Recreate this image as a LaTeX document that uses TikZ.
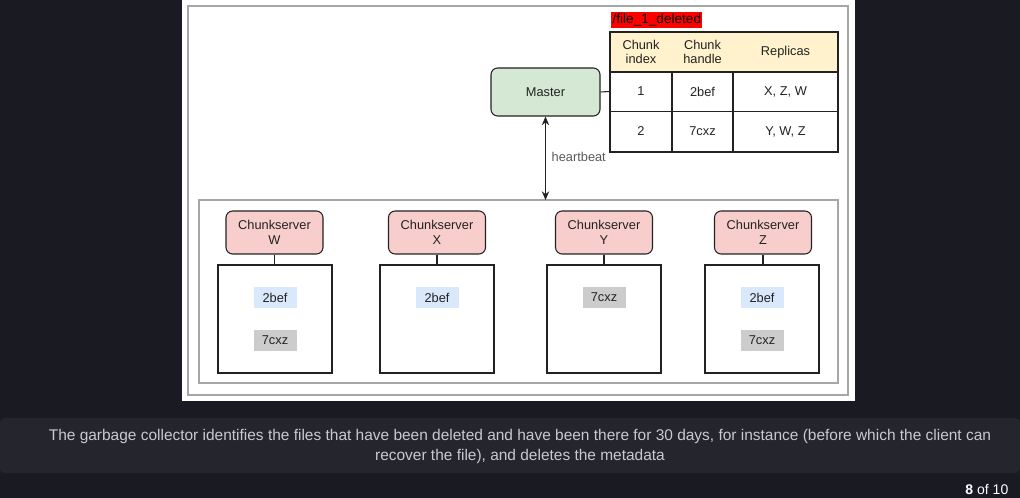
\documentclass[tikz,border=0pt]{standalone}
\usepackage{fontspec}
\setmainfont{Liberation Sans}
\usetikzlibrary{arrows.meta}
\definecolor{bgdark}{HTML}{1A1B22}
\definecolor{capbox}{HTML}{24252D}
\definecolor{captext}{HTML}{C9CAD0}
\definecolor{masterfill}{HTML}{D5E8D4}
\definecolor{csfill}{HTML}{F8CECC}
\definecolor{headfill}{HTML}{FFF2CC}
\definecolor{bluechip}{HTML}{DAE8FC}
\definecolor{graychip}{HTML}{CCCCCC}
\definecolor{framegray}{HTML}{A6A6A6}
\definecolor{ink}{HTML}{222222}
\tikzset{
  dtext/.style={font=\fontsize{9.6}{11}\selectfont, text=ink, align=center},
  master/.style={draw=ink, line width=0.8pt, rounded corners=5pt, fill=masterfill, minimum width=81.75pt, minimum height=36pt, dtext},
  cserver/.style={draw=ink, line width=0.8pt, rounded corners=5pt, fill=csfill, minimum width=72.75pt, minimum height=32.25pt, dtext, inner sep=1pt},
  store/.style={draw=ink, line width=0.8pt, fill=white, minimum width=85.5pt, minimum height=81pt},
  chip/.style={minimum width=32.25pt, minimum height=15.75pt, inner sep=0pt, dtext},
  cell/.style={dtext, inner sep=0pt},
  conn/.style={draw=ink, line width=0.8pt},
}
\begin{document}
\begin{tikzpicture}[x=0.75pt, y=-0.75pt]
\useasboundingbox (0,0) rectangle (1020,498);
\fill[bgdark] (0,0) rectangle (1020,498);
% caption box
\fill[capbox, rounded corners=3pt] (0,418) rectangle (1020,473);
\node[text=captext, font=\fontsize{11.6}{15.7}\selectfont, align=center] (caption) at (520,446.5)
  {The garbage collector identifies the files that have been deleted and have been there for 30 days, for instance (before which the client can\\recover the file), and deletes the metadata};
\node[text=white, font=\fontsize{10.5}{12}\selectfont, anchor=east] (pager) at (1013,490) {\textbf{8} of 10};
% white panel
\fill[white] (182,0) rectangle (855,401);
\draw[framegray, line width=0.8pt] (188,6) rectangle (848,395);
% group container
\draw[framegray, line width=0.8pt] (199,200) rectangle (838,383);
% master
\node[master] (master) at (545.5,92) {Master};
% table title
\node[fill=red, text=black, font=\fontsize{10.2}{11}\selectfont, inner xsep=1pt, inner ysep=1pt, anchor=west] (title) at (611,20) {/file\_1\_deleted};
% table
\fill[headfill] (610,32) rectangle (838,72);
\draw[ink, line width=1.1pt] (610,32) rectangle (838,152);
\draw[ink, line width=1.1pt] (610,72) -- (838,72);
\draw[ink, line width=1.1pt] (610,111.5) -- (838,111.5);
\draw[ink, line width=1.1pt] (672,72) -- (672,152);
\draw[ink, line width=1.1pt] (733,72) -- (733,152);
\coordinate (tableleft) at (610,91.5);
\node[cell] (h1) at (641,52) {Chunk\\index};
\node[cell] (h2) at (702.5,52) {Chunk\\handle};
\node[cell] (h3) at (785.5,52) {Replicas};
\node[cell] (r11) at (641,91.5) {1};
\node[cell] (r12) at (702.5,91.5) {2bef};
\node[cell] (r13) at (785.5,91.5) {X, Z, W};
\node[cell] (r21) at (641,131.5) {2};
\node[cell] (r22) at (702.5,131.5) {7cxz};
\node[cell] (r23) at (785.5,131.5) {Y, W, Z};
\draw[conn] (master.east) -- (tableleft);
% heartbeat arrow
\coordinate (grouptop) at (545.5,200);
\draw[conn, {Stealth[length=6.5pt,width=5.5pt]}-{Stealth[length=6.5pt,width=5.5pt]}] (master.south) -- (grouptop);
\node[text=ink!75, font=\fontsize{9.6}{10}\selectfont, anchor=west] (hb) at (547,157) {heartbeat};
% chunkservers
\node[cserver] (csW) at (274.5,232.5) {Chunkserver\\W};
\node[cserver] (csX) at (437,232.5) {Chunkserver\\X};
\node[cserver] (csY) at (604,232.5) {Chunkserver\\Y};
\node[cserver] (csZ) at (763,232.5) {Chunkserver\\Z};
% storage boxes
\node[store] (stW) at (275,319) {};
\node[store] (stX) at (437,319) {};
\node[store] (stY) at (604,319) {};
\node[store] (stZ) at (762,319) {};
\draw[conn] (csW.south) -- (stW.north -| csW.south);
\draw[conn] (csX.south) -- (stX.north -| csX.south);
\draw[conn] (csY.south) -- (stY.north -| csY.south);
\draw[conn] (csZ.south) -- (stZ.north -| csZ.south);
% chips
\node[chip, fill=bluechip] (wA) at (275,297.5) {2bef};
\node[chip, fill=graychip] (wB) at (275,340.5) {7cxz};
\node[chip, fill=bluechip] (xA) at (437,297.5) {2bef};
\node[chip, fill=graychip] (yA) at (604,297.5) {7cxz};
\node[chip, fill=bluechip] (zA) at (762,297.5) {2bef};
\node[chip, fill=graychip] (zB) at (762,340.5) {7cxz};
\end{tikzpicture}
\end{document}
